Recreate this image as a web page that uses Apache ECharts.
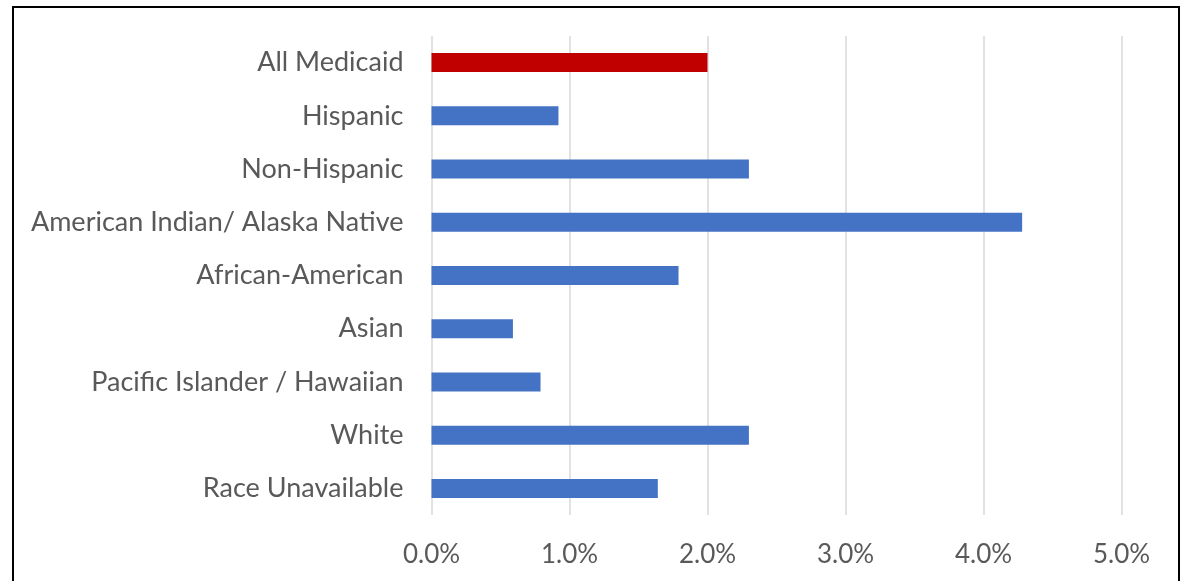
<!DOCTYPE html>
<html>
<head>
<meta charset="utf-8">
<script src="https://cdn.jsdelivr.net/npm/echarts@6/dist/echarts.min.js"></script>
<style>
  html, body { margin: 0; padding: 0; background: #fff; }
  #chart { width: 1180px; height: 581px; }
</style>
</head>
<body>
<div id="chart"></div>
<script>
// categories top -> bottom
const categories = ['All Medicaid', 'Hispanic', 'Non-Hispanic', 'American Indian/ Alaska Native',
  'African-American', 'Asian', 'Pacific Islander / Hawaiian', 'White', 'Race Unavailable'];
// percent values
const values = [2.00, 0.92, 2.30, 4.28, 1.79, 0.59, 0.79, 2.30, 1.64];
const highlight = 'All Medicaid';

const myChart = echarts.init(document.getElementById('chart'));
const labelFont = 'Lato, "Open Sans", sans-serif';

const option = {
  animation: false,
  grid: { left: 431.5, right: 58.5, top: 36, bottom: 66 },
  xAxis: {
    type: 'value',
    min: 0,
    max: 5,
    interval: 1,
    axisLine: { show: false },
    axisTick: { show: false },
    splitLine: { lineStyle: { color: '#d9d9d9', width: 1.5 } },
    axisLabel: {
      formatter: v => v.toFixed(1) + '%',
      color: '#595959',
      fontSize: 26,
      fontFamily: labelFont,
      margin: 27
    }
  },
  yAxis: {
    type: 'category',
    inverse: true,
    data: categories,
    axisLine: { show: false },
    axisTick: { show: false },
    axisLabel: {
      color: '#595959',
      fontSize: 27,
      fontFamily: labelFont,
      margin: 28,
      padding: [4, 0, 0, 0]
    }
  },
  series: [{
    type: 'bar',
    barWidth: 19,
    data: categories.map((c, i) => ({
      value: values[i],
      itemStyle: { color: c === highlight ? '#C00000' : '#4472C4' }
    }))
  }],
  graphic: [{
    type: 'rect',
    shape: { x: 13, y: 7, width: 1166, height: 600 },
    style: { fill: 'none', stroke: '#000', lineWidth: 2 },
    silent: true
  }]
};
myChart.setOption(option);
</script>
</body>
</html>
